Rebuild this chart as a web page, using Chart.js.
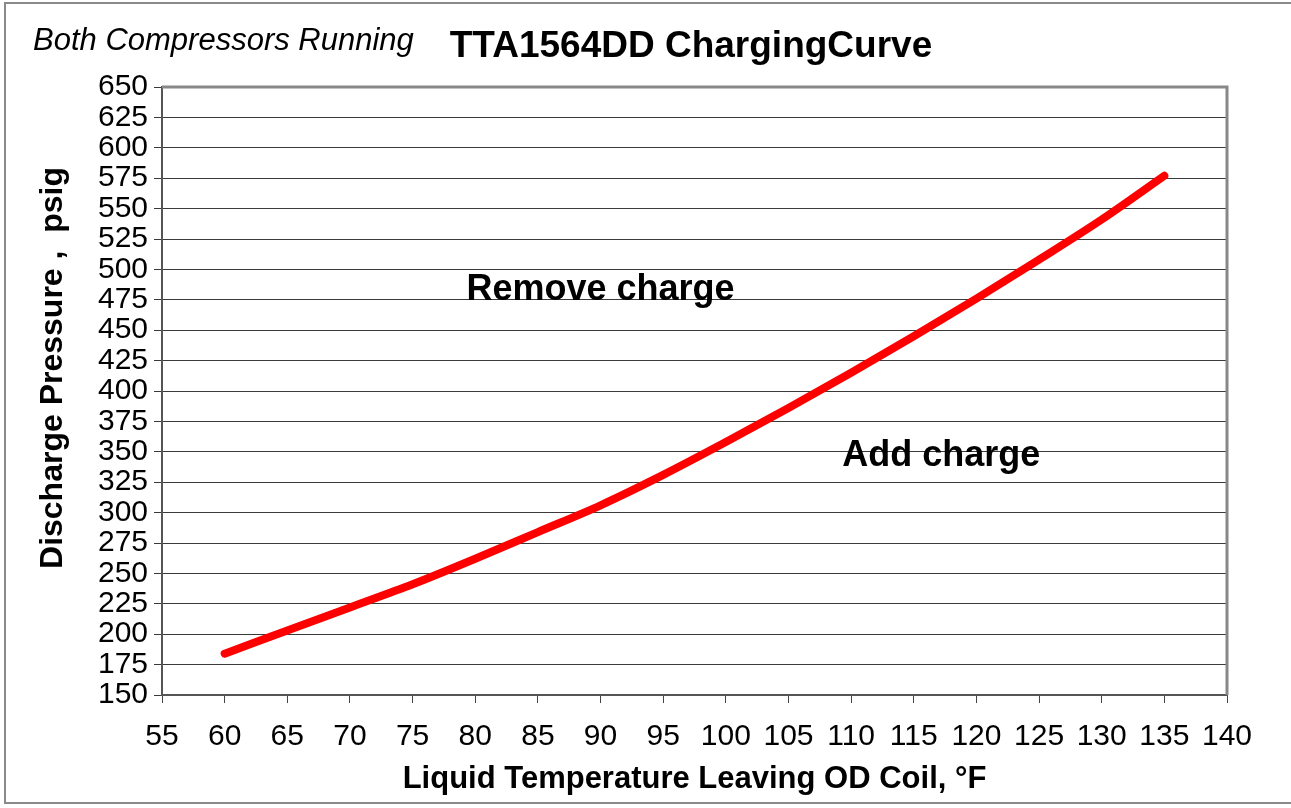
<!DOCTYPE html>
<html>
<head>
<meta charset="utf-8">
<title>TTA1564DD Charging Curve</title>
<script src="https://cdn.jsdelivr.net/npm/chart.js@4/dist/chart.umd.min.js"></script>
<style>
  body { margin: 0; background: #fff; }
  #wrap { width: 1291px; height: 808px; }
</style>
</head>
<body>
<div id="wrap"><canvas id="chargingChart" width="1291" height="808"></canvas></div>
<script>
// Curve data (liquid temp in °F, discharge pressure in psig)
const temps = [60, 65, 70, 75, 80, 85, 90, 95, 100, 105, 110, 115, 120, 125, 130, 135];
const pressures = [184, 203, 222, 241, 262, 284, 306, 331, 358, 386, 415, 445, 476, 508, 541, 577];

// Axis ranges / tick steps
const xRange = [55, 140, 5];
const yRange = [150, 650, 25];

// Text labels placed in data coordinates
const noteTexts = ['Remove charge', 'Add charge'];
const noteX = [90, 117.2];
const noteY = [483, 346.5];

const chartTitle = 'TTA1564DD ChargingCurve';
const subTitle = 'Both Compressors Running';
const yTitle = 'Discharge Pressure ,  psig';

const FONT = 'Arial, "Liberation Sans", sans-serif';

// Draws the header texts, the y title, the notes, the frame and the right/top plot border
const extrasPlugin = {
  id: 'extras',
  afterDraw(chart) {
    const { ctx, chartArea, scales } = chart;
    ctx.save();

    // outer frame
    ctx.strokeStyle = '#8a8a8a';
    ctx.lineWidth = 2;
    ctx.strokeRect(5, 3, 1300, 800);

    // plot right + top border
    ctx.strokeStyle = '#888';
    ctx.lineWidth = 3;
    ctx.beginPath();
    ctx.moveTo(chartArea.left, chartArea.top);
    ctx.lineTo(chartArea.right, chartArea.top);
    ctx.lineTo(chartArea.right, chartArea.bottom);
    ctx.stroke();

    // header
    ctx.fillStyle = '#000';
    ctx.textBaseline = 'middle';
    ctx.textAlign = 'left';
    ctx.font = 'italic 31px ' + FONT;
    ctx.fillText(subTitle, 33, 41);
    ctx.textAlign = 'center';
    ctx.font = 'bold 37px ' + FONT;
    ctx.fillText(chartTitle, 691, 47);

    // y axis title, sits a bit above the plot's middle like the original
    ctx.save();
    ctx.translate(53, 368);
    ctx.rotate(-Math.PI / 2);
    ctx.font = 'bold 32px ' + FONT;
    ctx.fillText(yTitle, 0, 0);
    ctx.restore();

    // notes
    ctx.font = 'bold 36px ' + FONT;
    noteTexts.forEach((t, i) => {
      ctx.fillText(t, scales.x.getPixelForValue(noteX[i]), scales.y.getPixelForValue(noteY[i]));
    });
    ctx.restore();
  }
};

const ctx = document.getElementById('chargingChart');

const chargingChart = new Chart(ctx, {
  type: 'scatter',
  data: {
    datasets: [{
      label: 'Charging curve',
      data: temps.map((t, i) => ({ x: t, y: pressures[i] })),
      showLine: true,
      borderColor: '#ff0000',
      borderWidth: 8,
      borderCapStyle: 'round',
      borderJoinStyle: 'round',
      pointRadius: 0,
      cubicInterpolationMode: 'monotone'
    }]
  },
  options: {
    responsive: false,
    animation: false,
    layout: { padding: { top: 87, right: 64, bottom: 0, left: 0 } },
    plugins: {
      legend: { display: false },
      title: { display: false },
      tooltip: { enabled: false }
    },
    scales: {
      x: {
        type: 'linear',
        min: xRange[0],
        max: xRange[1],
        afterFit(scale) { scale.height = 113; },
        ticks: {
          stepSize: xRange[2],
          color: '#000',
          padding: 16,
          maxRotation: 0,
          autoSkip: false,
          font: { family: FONT, size: 30 }
        },
        grid: { drawOnChartArea: false, drawTicks: true, tickLength: 8, color: '#444' },
        border: { color: '#555', width: 2 },
        title: {
          display: true,
          text: 'Liquid Temperature Leaving OD Coil, °F',
          color: '#000',
          padding: { top: 0, bottom: 10 },
          font: { family: FONT, size: 31, weight: 'bold' }
        }
      },
      y: {
        min: yRange[0],
        max: yRange[1],
        afterFit(scale) { scale.width = 162; },
        ticks: {
          stepSize: yRange[2],
          color: '#000',
          padding: 6,
          autoSkip: false,
          font: { family: FONT, size: 30 }
        },
        grid: { color: '#3a3a3a', lineWidth: 1, tickLength: 8 },
        border: { color: '#555', width: 2 }
      }
    }
  },
  plugins: [extrasPlugin]
});
</script>
</body>
</html>
